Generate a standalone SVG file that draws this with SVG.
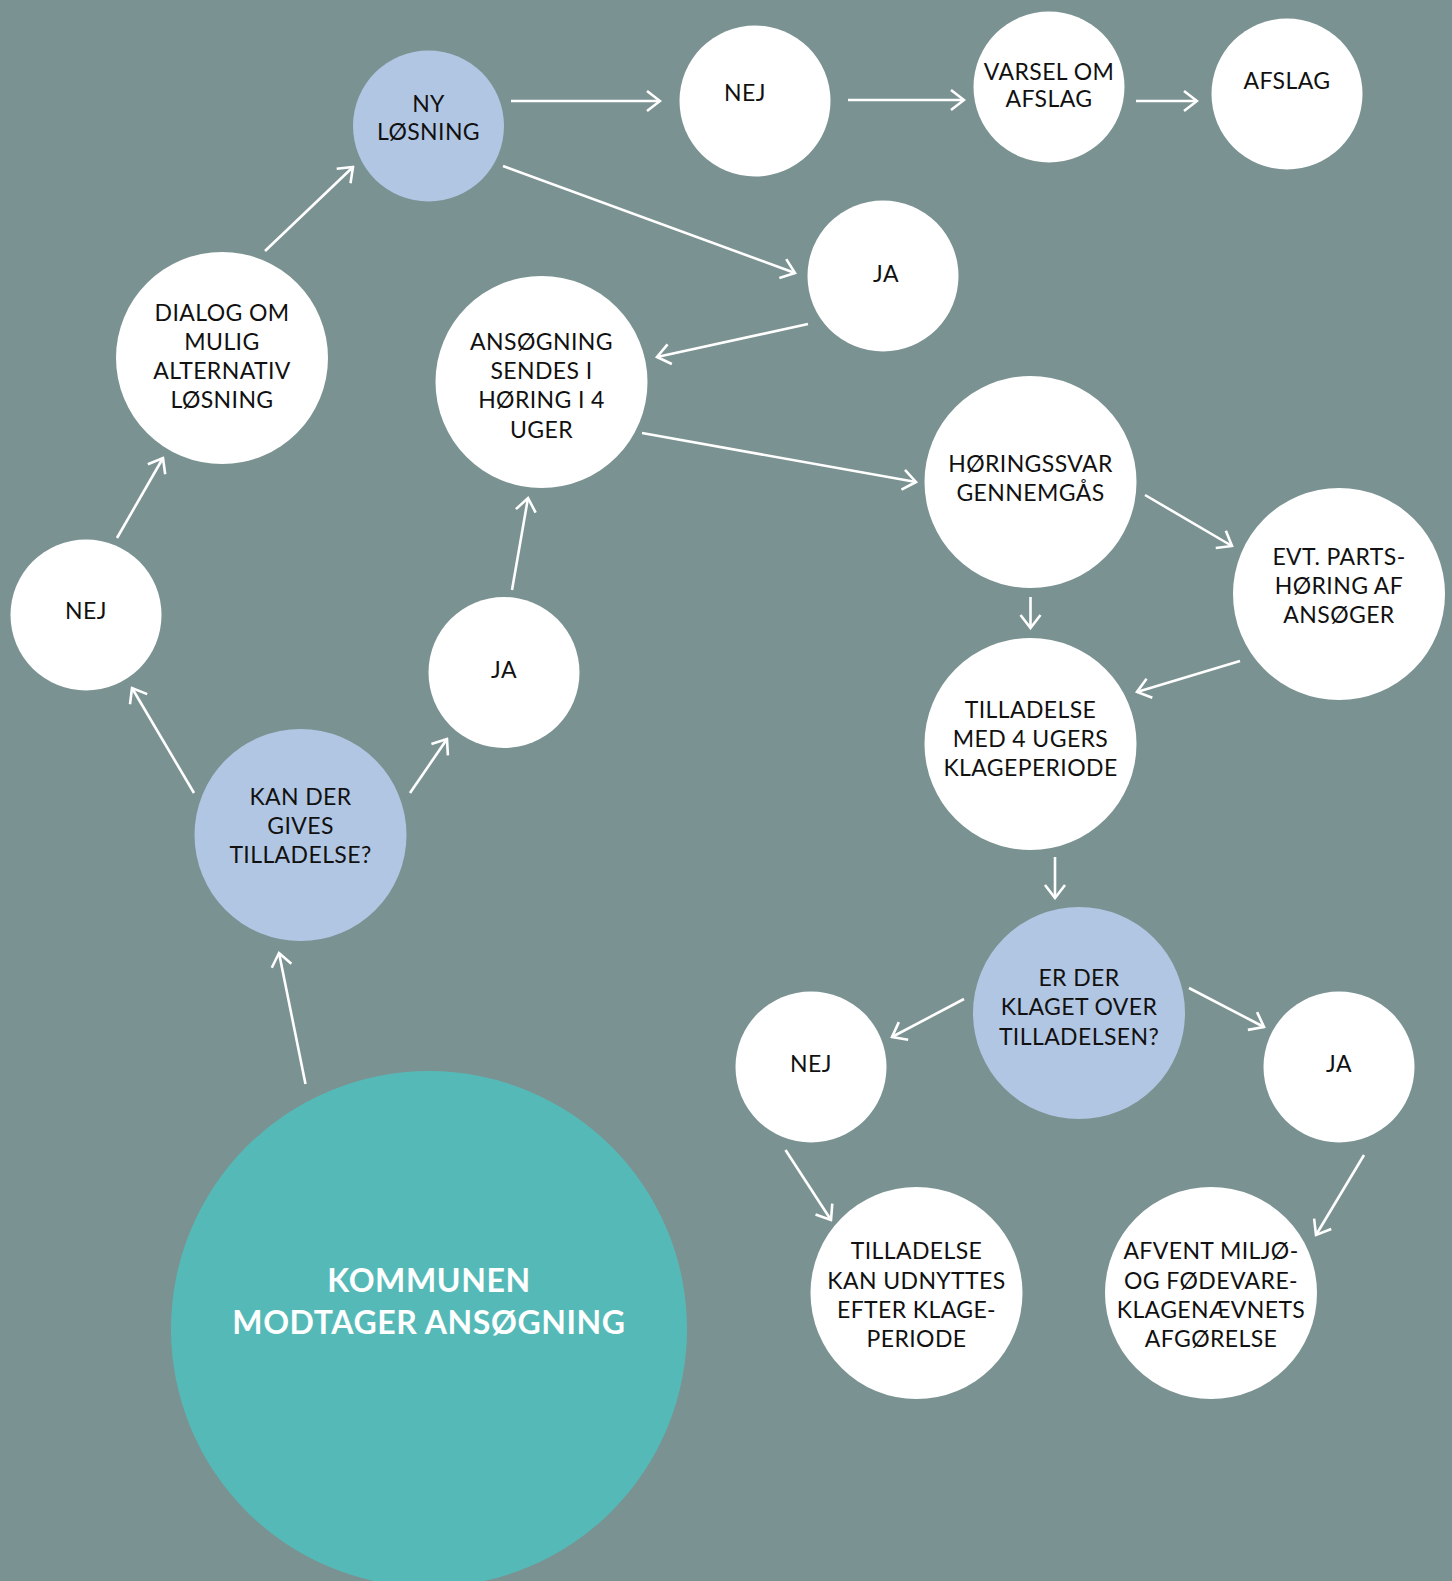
<svg xmlns="http://www.w3.org/2000/svg" width="1452" height="1581" viewBox="0 0 1452 1581">
<defs>
<style>
.w{fill:#ffffff}
.b{fill:#b1c6e3}
.t{fill:#55bab7}
.lbl{font-family:Lato,"Noto Sans","Liberation Sans",sans-serif;font-size:23px;fill:#111111;text-anchor:middle;letter-spacing:0.4px}
.big{font-family:Lato,"Noto Sans","Liberation Sans",sans-serif;font-size:32px;font-weight:700;fill:#ffffff;text-anchor:middle;letter-spacing:0.6px}
.c line{stroke:#ffffff;stroke-width:2.6;fill:none;marker-end:url(#ah)}
</style>
<marker id="ah" viewBox="0 0 16 24" refX="14" refY="12" markerWidth="16" markerHeight="24" markerUnits="userSpaceOnUse" orient="auto">
<path d="M1,2 L14,12 L1,22" fill="none" stroke="#ffffff" stroke-width="2.6"/>
</marker>
</defs>
<rect width="1452" height="1581" fill="#7a9291"/>

<g class="c" id="connectors">
<line x1="511" y1="101" x2="660" y2="101"/>
<line x1="848" y1="100" x2="964" y2="100"/>
<line x1="1136" y1="101" x2="1197" y2="101"/>
<line x1="503" y1="166" x2="795" y2="273"/>
<line x1="808" y1="324" x2="657" y2="357"/>
<line x1="265" y1="251" x2="353" y2="167"/>
<line x1="117" y1="538" x2="163" y2="458"/>
<line x1="194" y1="793" x2="132" y2="688"/>
<line x1="410" y1="793" x2="447" y2="739"/>
<line x1="512" y1="590" x2="528" y2="498"/>
<line x1="305.5" y1="1084" x2="279" y2="953"/>
<line x1="642" y1="433" x2="916" y2="482"/>
<line x1="1145" y1="495" x2="1232" y2="546"/>
<line x1="1030.5" y1="597" x2="1030.5" y2="628"/>
<line x1="1240" y1="661" x2="1137" y2="692"/>
<line x1="1055" y1="857" x2="1055" y2="898"/>
<line x1="964" y1="999" x2="892" y2="1037"/>
<line x1="1189" y1="988" x2="1264" y2="1027"/>
<line x1="785.5" y1="1150" x2="831" y2="1220"/>
<line x1="1364" y1="1155" x2="1316" y2="1235"/>
</g>

<g id="ny-losning"><circle class="b" cx="428.5" cy="126" r="75.5"/><text class="lbl" x="428.5" y="112">NY</text><text class="lbl" x="428.5" y="140">LØSNING</text></g>
<g id="nej-top"><circle class="w" cx="755" cy="101" r="75.5"/><text class="lbl" x="745" y="101">NEJ</text></g>
<g id="varsel"><circle class="w" cx="1049" cy="87" r="75.5"/><text class="lbl" x="1049" y="80">VARSEL OM</text><text class="lbl" x="1049" y="107">AFSLAG</text></g>
<g id="afslag"><circle class="w" cx="1287" cy="94" r="75.5"/><text class="lbl" x="1287" y="89">AFSLAG</text></g>
<g id="ja-top"><circle class="w" cx="883" cy="276" r="75.5"/><text class="lbl" x="886" y="282">JA</text></g>
<g id="dialog"><circle class="w" cx="222" cy="358" r="106"/><text class="lbl" x="222" y="321">DIALOG OM</text><text class="lbl" x="222" y="350">MULIG</text><text class="lbl" x="222" y="379">ALTERNATIV</text><text class="lbl" x="222" y="408">LØSNING</text></g>
<g id="ansoegning"><circle class="w" cx="541.5" cy="382" r="106"/><text class="lbl" x="541.5" y="350">ANSØGNING</text><text class="lbl" x="541.5" y="379">SENDES I</text><text class="lbl" x="541.5" y="408">HØRING I 4</text><text class="lbl" x="541.5" y="438">UGER</text></g>
<g id="hoeringssvar"><circle class="w" cx="1030.5" cy="482" r="106"/><text class="lbl" x="1030.5" y="472">HØRINGSSVAR</text><text class="lbl" x="1030.5" y="501">GENNEMGÅS</text></g>
<g id="partshoering"><circle class="w" cx="1339" cy="594" r="106"/><text class="lbl" x="1339" y="565">EVT. PARTS-</text><text class="lbl" x="1339" y="594">HØRING AF</text><text class="lbl" x="1339" y="623">ANSØGER</text></g>
<g id="nej-left"><circle class="w" cx="86" cy="615" r="75.5"/><text class="lbl" x="86" y="619">NEJ</text></g>
<g id="ja-mid"><circle class="w" cx="504" cy="672.5" r="75.5"/><text class="lbl" x="504" y="678">JA</text></g>
<g id="tilladelse-med"><circle class="w" cx="1030.5" cy="744" r="106"/><text class="lbl" x="1030.5" y="718">TILLADELSE</text><text class="lbl" x="1030.5" y="747">MED 4 UGERS</text><text class="lbl" x="1030.5" y="776">KLAGEPERIODE</text></g>
<g id="kan-der"><circle class="b" cx="300.5" cy="835" r="106"/><text class="lbl" x="300.5" y="805">KAN DER</text><text class="lbl" x="300.5" y="834">GIVES</text><text class="lbl" x="300.5" y="863">TILLADELSE?</text></g>
<g id="er-der"><circle class="b" cx="1079" cy="1013" r="106"/><text class="lbl" x="1079" y="986">ER DER</text><text class="lbl" x="1079" y="1015">KLAGET OVER</text><text class="lbl" x="1079" y="1045">TILLADELSEN?</text></g>
<g id="nej-bottom"><circle class="w" cx="811" cy="1067" r="75.5"/><text class="lbl" x="811" y="1072">NEJ</text></g>
<g id="ja-bottom"><circle class="w" cx="1339" cy="1067" r="75.5"/><text class="lbl" x="1339" y="1072">JA</text></g>
<g id="tilladelse-kan"><circle class="w" cx="916.5" cy="1293" r="106"/><text class="lbl" x="916.5" y="1259">TILLADELSE</text><text class="lbl" x="916.5" y="1289">KAN UDNYTTES</text><text class="lbl" x="916.5" y="1318">EFTER KLAGE-</text><text class="lbl" x="916.5" y="1347">PERIODE</text></g>
<g id="afvent"><circle class="w" cx="1211" cy="1293" r="106"/><text class="lbl" x="1211" y="1259">AFVENT MILJØ-</text><text class="lbl" x="1211" y="1289">OG FØDEVARE-</text><text class="lbl" x="1211" y="1318">KLAGENÆVNETS</text><text class="lbl" x="1211" y="1347">AFGØRELSE</text></g>
<g id="kommunen"><circle class="t" cx="429" cy="1329" r="258"/><text class="big" x="429" y="1292">KOMMUNEN</text><text class="big" x="429" y="1334">MODTAGER ANSØGNING</text></g>
</svg>
